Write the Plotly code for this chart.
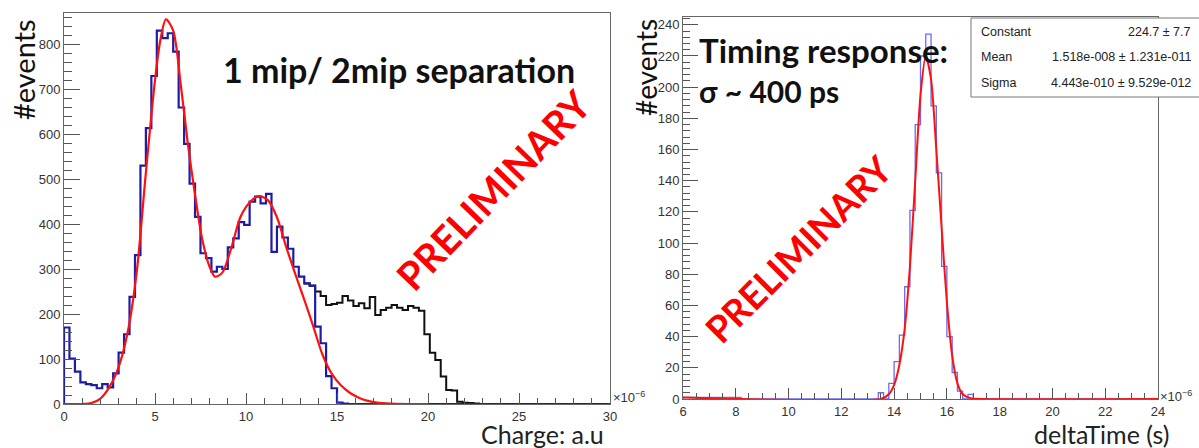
import plotly.graph_objects as go

W, H = 1199, 448

# ---------------- Left panel: charge spectrum (x in units of 1e-6) ----------------
charge_start = 0.0
charge_bin = 0.3
charge_blue = [170, 101, 72, 48, 44, 42, 35, 44, 37, 68,
               114, 155, 238, 331, 530, 613, 729, 830, 813, 824,
               783, 659, 578, 490, 416, 335, 324, 294, 305, 300,
               348, 368, 404, 398, 450, 461, 446, 467, 338, 394,
               370, 345, 305, 283, 268, 263, 172, 135, 62, 35,
               3, 1, 0, 0, 0, 0, 0, 0, 0, 0,
               0, 0, 0, 0, 0, 0, 0, 0, 0, 0,
               0, 0, 0, 0, 0, 0, 0, 0, 0, 0,
               0, 0, 0, 0, 0, 0, 0, 0, 0, 0,
               0, 0, 0, 0, 0, 0, 0, 0, 0, 0]
# black histogram, visible part (bins from index 44, x = 13.2)
black_first_bin = 44
charge_black = [268, 263, 250, 240, 220, 222, 225, 240, 230, 218,
                224, 213, 238, 198, 209, 214, 220, 214, 209, 218,
                214, 207, 155, 114, 98, 61, 31, 30, 5, 3,
                2, 1, 0]
# fit curve
charge_fit_x = [0, 0.5, 1.0, 1.5, 2.0, 2.5, 3.0, 3.5, 4.0, 4.5, 5.0, 5.3, 5.6, 6.0,
                6.4, 6.8, 7.2, 7.6, 8.0, 8.3, 8.7, 9.2, 9.7, 10.2, 10.7, 11.2, 11.7,
                12.2, 12.7, 13.2, 13.7, 14.2, 14.7, 15.2, 15.7, 16.2, 16.7, 17.2,
                18.0, 19.0, 20.0]
charge_fit_y = [0, 0, 0, 2, 12, 38, 82, 160, 295, 515, 720, 810, 855, 830,
                715, 580, 465, 365, 305, 283, 292, 348, 416, 448, 462, 453, 415,
                350, 290, 232, 172, 110, 68, 42, 25, 14, 7, 3,
                1, 0, 0]

# ---------------- Right panel: delta time (x in units of 1e-6 s) ----------------
time_start = 6.0
time_bin = 0.2
time_blue = [1, 1, 1, 1, 1, 1, 1, 1, 1, 1,
             1, 0, 0, 0, 0, 0, 0, 0, 0, 0,
             0, 0, 0, 0, 0, 0, 0, 0, 0, 0,
             0, 0, 0, 0, 0, 0, 0, 4, 0, 10,
             24, 41, 72, 121, 176, 220, 234, 188, 145, 85,
             40, 17, 5, 0, 3, 0, 0, 0, 0, 0,
             0, 0, 0, 0, 0, 0, 0, 0, 0, 0,
             0, 0, 0, 0, 0, 0, 0, 0, 0, 0,
             0, 0, 0, 0, 0, 0, 0, 0, 0, 0]
time_fit_x = [6.0, 8.2, 13.5, 13.8, 14.0, 14.2, 14.4, 14.6, 14.8, 15.0, 15.2, 15.4,
              15.6, 15.8, 16.0, 16.2, 16.4, 16.6, 16.9, 17.4, 24.0]
time_fit_y = [1, 0, 0, 3, 9, 22, 45, 85, 140, 195, 220, 205,
              160, 110, 62, 28, 10, 3, 0.5, 0, 0]

stats_rows = [("Constant", "224.7 ± 7.7"),
              ("Mean", "1.518e-008 ± 1.231e-011"),
              ("Sigma", "4.443e-010 ± 9.529e-012")]


def steps(start, width, counts):
    xs = [start + width * i for i in range(len(counts) + 1)]
    ys = list(counts) + [counts[-1]]
    return [start] + xs, [0] + ys


def px(x):
    return x / W


def py(y):
    return 1 - y / H


fig = go.Figure()

bx = [charge_start + charge_bin * (black_first_bin + i) for i in range(len(charge_black) + 1)]
by = list(charge_black) + [charge_black[-1]]
fig.add_trace(go.Scatter(x=bx, y=by, mode="lines", line=dict(color="#111111", width=2, shape="hv"),
                         xaxis="x", yaxis="y", hoverinfo="skip"))
sx, sy = steps(charge_start, charge_bin, charge_blue)
fig.add_trace(go.Scatter(x=sx, y=sy, mode="lines", line=dict(color="#1c1ca6", width=2.2, shape="hv"),
                         xaxis="x", yaxis="y", hoverinfo="skip"))
fig.add_trace(go.Scatter(x=charge_fit_x, y=charge_fit_y, mode="lines",
                         line=dict(color="#ff1010", width=2.2, shape="spline", smoothing=0.8),
                         xaxis="x", yaxis="y", hoverinfo="skip"))

tx, ty = steps(time_start, time_bin, time_blue)
fig.add_trace(go.Scatter(x=tx, y=ty, mode="lines", line=dict(color="#6b6bf0", width=1.3, shape="hv"),
                         xaxis="x2", yaxis="y2", hoverinfo="skip"))
fig.add_trace(go.Scatter(x=time_fit_x, y=time_fit_y, mode="lines",
                         line=dict(color="#ff1010", width=2, shape="spline", smoothing=0.7),
                         xaxis="x2", yaxis="y2", hoverinfo="skip"))

tickfont = dict(family="Liberation Sans, Arial, sans-serif", size=13, color="#333333")
common = dict(showgrid=False, zeroline=False, showline=True, mirror=True, linecolor="#666666",
              linewidth=1, ticks="inside", tickcolor="#555555", tickfont=tickfont, fixedrange=True,
              automargin=False)

fig.update_layout(
    width=W, height=H, margin=dict(l=0, r=0, t=0, b=0),
    paper_bgcolor="white", plot_bgcolor="white", showlegend=False,
    xaxis=dict(domain=[px(64), px(610)], range=[0, 30], anchor="y", tick0=0, dtick=5, ticklen=11,
               minor=dict(dtick=1, ticklen=6, ticks="inside", tickcolor="#555555"), **common),
    yaxis=dict(domain=[py(404), py(13)], range=[0, 869], anchor="x", tick0=0, dtick=100, ticklen=16,
               minor=dict(dtick=20, ticklen=8, ticks="inside", tickcolor="#555555"), **common),
    xaxis2=dict(domain=[px(683), px(1158)], range=[6, 24], anchor="y2", tick0=6, dtick=2, ticklen=11,
                minor=dict(dtick=0.5, ticklen=6, ticks="inside", tickcolor="#555555"), **common),
    yaxis2=dict(domain=[py(399), py(17)], range=[0, 245], anchor="x2", tick0=0, dtick=20, ticklen=15,
                minor=dict(dtick=4, ticklen=7, ticks="inside", tickcolor="#555555"), **common),
)

ann = []
title_font = "Lato, Open Sans, sans-serif"
P = dict(xref="paper", yref="paper", showarrow=False)
ann.append(dict(x=px(23), y=py(70), text="#events", textangle=-90,
                font=dict(family=title_font, size=29, color="#111111"), xanchor="center", yanchor="middle", **P))
ann.append(dict(x=px(646), y=py(68), text="#events", textangle=-90,
                font=dict(family=title_font, size=28, color="#111111"), xanchor="center", yanchor="middle", **P))
ann.append(dict(x=px(606), y=py(434), text="Charge: a.u",
                font=dict(family=title_font, size=25, color="#222222"), xanchor="right", yanchor="middle", **P))
ann.append(dict(x=px(1171), y=py(434), text="deltaTime (s)",
                font=dict(family=title_font, size=25, color="#222222"), xanchor="right", yanchor="middle", **P))
ann.append(dict(x=px(611), y=py(397), text="×10<sup>−6</sup>",
                font=dict(family="Liberation Sans, Arial", size=13, color="#333333"), xanchor="left", yanchor="middle", **P))
ann.append(dict(x=px(1158), y=py(396), text="×10<sup>−6</sup>",
                font=dict(family="Liberation Sans, Arial", size=13, color="#333333"), xanchor="left", yanchor="middle", **P))
ann.append(dict(x=px(399), y=py(69), text="<b>1 mip/ 2mip separation</b>",
                font=dict(family=title_font, size=34, color="#111111"), xanchor="center", yanchor="middle", **P))
ann.append(dict(x=px(697), y=py(50), text="<b>Timing response:</b>",
                font=dict(family=title_font, size=33, color="#111111"), xanchor="left", yanchor="middle", **P))
ann.append(dict(x=px(697), y=py(91), text="<b>σ ~ 400 ps</b>",
                font=dict(family=title_font, size=30, color="#111111"), xanchor="left", yanchor="middle", **P))
ann.append(dict(x=px(493), y=py(190), text="<b>PRELIMINARY</b>", textangle=-46,
                font=dict(family=title_font, size=39, color="#ff0000"), xanchor="center", yanchor="middle", **P))
ann.append(dict(x=px(798), y=py(248), text="<b>PRELIMINARY</b>", textangle=-45,
                font=dict(family=title_font, size=37, color="#ff0000"), xanchor="center", yanchor="middle", **P))

stat_font = dict(family="Liberation Sans, Arial, sans-serif", size=12.5, color="#222222")
row_y = [32, 57, 83]
for (lab, val), yy in zip(stats_rows, row_y):
    ann.append(dict(x=px(979), y=py(yy), text=lab, font=stat_font,
                    xanchor="left", yanchor="middle", **P))
    ann.append(dict(x=px(1193), y=py(yy), text=val, font=stat_font,
                    xanchor="right", yanchor="middle", **P))

fig.update_layout(annotations=ann)
fig.add_shape(type="rect", xref="paper", yref="paper", x0=px(971), x1=px(1203), y0=py(97), y1=py(18),
              line=dict(color="#777777", width=1), fillcolor="white", layer="above")

fig.write_html("out.html", config={"displayModeBar": False},
               post_script="document.body.style.margin='0px';document.body.style.overflow='hidden';")
